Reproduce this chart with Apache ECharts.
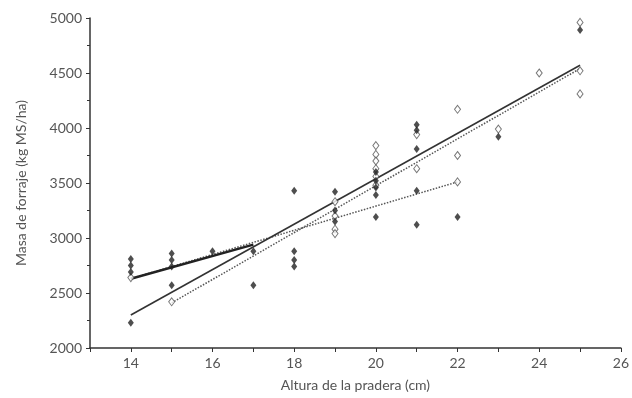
<!DOCTYPE html>
<html lang="es">
<head>
    <meta charset="UTF-8">
    <title>Masa de forraje</title>
    <script src="https://cdn.jsdelivr.net/npm/echarts@6/dist/echarts.min.js"></script>
</head>
<body style="margin:0;background:#fff;">
<div id="main" style="width:632px;height:398px;"></div>
<script type="text/javascript">
    // puntos medidos: [altura cm, masa kg MS/ha]
    var llenos = [
        [14, 2810], [14, 2750], [14, 2690], [14, 2230],
        [15, 2860], [15, 2800], [15, 2740], [15, 2570],
        [16, 2880],
        [17, 2880], [17, 2570],
        [18, 3430], [18, 2880], [18, 2800], [18, 2740],
        [19, 3420], [19, 3250], [19, 3150],
        [20, 3600], [20, 3520], [20, 3460], [20, 3390], [20, 3190],
        [21, 4030], [21, 3980], [21, 3810], [21, 3430], [21, 3120],
        [22, 3190],
        [23, 3920],
        [25, 4890]
    ];
    var vacios = [
        [14, 2640],
        [15, 2420],
        [19, 3330], [19, 3200], [19, 3080], [19, 3040],
        [20, 3840], [20, 3760], [20, 3700], [20, 3630], [20, 3560], [20, 3480],
        [21, 3940], [21, 3630],
        [22, 4170], [22, 3750], [22, 3510],
        [23, 3990],
        [24, 4500],
        [25, 4960], [25, 4520], [25, 4310]
    ];
    // rectas de regresion (extremos)
    var rectaGruesa = [[14, 2630], [17, 2940]];
    var rectaPunteadaCorta = [[14, 2630], [22, 3510]];
    var rectaFina = [[14, 2300], [25, 4570]];
    var rectaPunteadaLarga = [[15, 2410], [25, 4540]];

    var myChart = echarts.init(document.getElementById('main'));
    var fuente = 'Lato';
    myChart.setOption({
        animation: false,
        grid: {left: 90, right: 10, top: 18, bottom: 50},
        xAxis: {
            type: 'value',
            min: 13, max: 26, interval: 1,
            name: 'Altura de la pradera (cm)',
            nameLocation: 'middle', nameGap: 30,
            nameTextStyle: {color: '#555', fontSize: 14, fontFamily: fuente},
            axisLine: {show: true, lineStyle: {color: '#333', width: 1.5}},
            axisTick: {show: true, length: 4, lineStyle: {color: '#333'}},
            splitLine: {show: false},
            axisLabel: {
                color: '#555', fontSize: 14, fontFamily: fuente, margin: 8,
                formatter: function (v) { return (v % 2 === 0) ? String(v) : ''; }
            }
        },
        yAxis: {
            type: 'value',
            min: 2000, max: 5000, interval: 500,
            name: 'Masa de forraje (kg MS/ha)',
            nameLocation: 'middle', nameGap: 62,
            nameTextStyle: {color: '#555', fontSize: 14, fontFamily: fuente},
            axisLine: {show: true, lineStyle: {color: '#333', width: 1.5}},
            axisTick: {show: true, length: 4, lineStyle: {color: '#333'}},
            minorTick: {show: true, splitNumber: 2, length: 3, lineStyle: {color: '#333'}},
            splitLine: {show: false},
            axisLabel: {
                color: '#555', fontSize: 14, fontFamily: fuente, margin: 8,
                formatter: function (v) { return String(v); }
            }
        },
        series: [
            {
                type: 'line', data: rectaPunteadaCorta, symbol: 'none',
                lineStyle: {color: '#555', width: 1.5, type: 'dotted'}, z: 2
            },
            {
                type: 'line', data: rectaPunteadaLarga, symbol: 'none',
                lineStyle: {color: '#555', width: 1.5, type: 'dotted'}, z: 2
            },
            {
                type: 'line', data: rectaFina, symbol: 'none',
                lineStyle: {color: '#333', width: 1.6}, z: 2
            },
            {
                type: 'line', data: rectaGruesa, symbol: 'none',
                lineStyle: {color: '#222', width: 2.5}, z: 2
            },
            {
                type: 'scatter', data: vacios, symbol: 'diamond', symbolSize: [6, 8],
                itemStyle: {color: '#fff', borderColor: '#555', borderWidth: 1}, z: 3
            },
            {
                type: 'scatter', data: llenos, symbol: 'diamond', symbolSize: [6, 8],
                itemStyle: {color: '#222'}, z: 4
            }
        ]
    });
</script>
</body>
</html>
